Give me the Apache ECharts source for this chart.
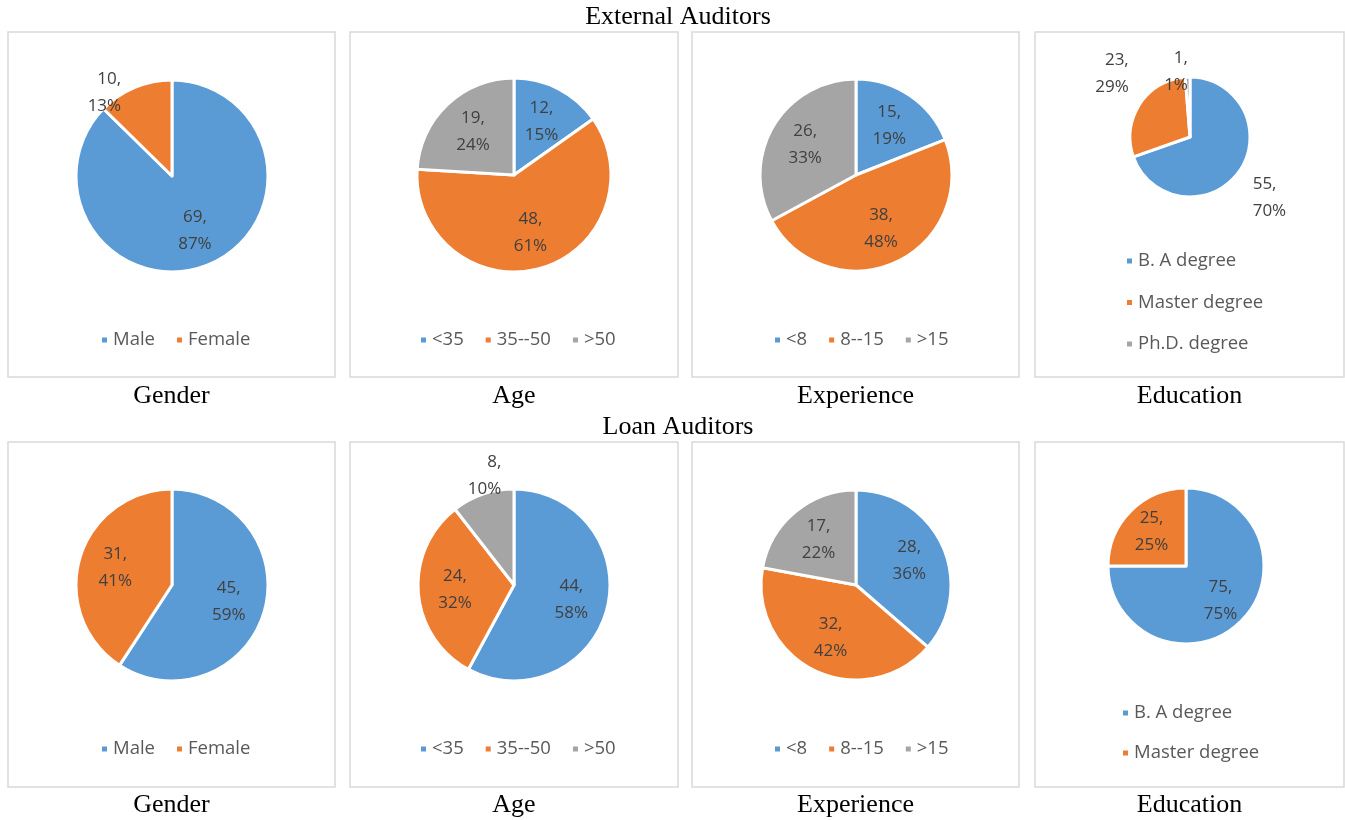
<!DOCTYPE html>
<html>
<head>
<meta charset="utf-8">
<script src="https://cdn.jsdelivr.net/npm/echarts@6/dist/echarts.min.js"></script>
<style>
  html, body { margin: 0; padding: 0; background: #fff; }
  #chart { width: 1345px; height: 820px; }
</style>
</head>
<body>
<div id="chart"></div>
<script>
// categories
const genderCats = ['Male', 'Female'];
const ageCats = ['<35', '35--50', '>50'];
const expCats = ['<8', '8--15', '>15'];
const eduCats = ['B. A degree', 'Master degree', 'Ph.D. degree'];
const eduCatsLoan = ['B. A degree', 'Master degree'];

// External auditors
const extGenderVals = [69, 10];
const extAgeVals = [12, 48, 19];
const extExpVals = [15, 38, 26];
const extEduVals = [55, 23, 1];

// Loan auditors
const loanGenderVals = [45, 31];
const loanAgeVals = [44, 24, 8];
const loanExpVals = [28, 32, 17];
const loanEduVals = [75, 25];

const panelTitles = ['Gender', 'Age', 'Experience', 'Education'];
const colors = ['#5B9BD5', '#ED7D31', '#A5A5A5'];
const labelFont = '"Open Sans", "Noto Sans", sans-serif';
const titleFont = '"Liberation Serif", "Times New Roman", serif';

const chartDom = document.getElementById('chart');
const myChart = echarts.init(chartDom);

// panel boxes [x0, x1]
const colsX = [[8, 335], [350, 678], [692, 1019], [1035, 1344]];
const rowsY = [[32, 377], [442, 787]];

// outside labels: {index: [length, length2]}
function buildData(cats, vals, outside) {
    return vals.map(function (v, i) {
        const item = { name: cats[i], value: v, itemStyle: { color: colors[i] } };
        if (outside && outside[i]) {
            item.label = { position: 'outside' };
            item.labelLine = { show: false, length: outside[i][0], length2: outside[i][1] };
        }
        return item;
    });
}

// move inside labels a bit outward, like Excel does
function pushOut(cx, cy, outside) {
    return function (p) {
        if (outside && outside[p.dataIndex]) return {};
        const r = p.labelRect;
        const mx = r.x + r.width / 2;
        const my = r.y + r.height / 2;
        return { dx: (mx - cx) * 0.16, dy: (my - cy) * 0.16 };
    };
}

function pieSeries(cats, vals, cx, cy, r, outside) {
    return {
        type: 'pie',
        center: [cx, cy],
        radius: r,
        startAngle: 90,
        clockwise: true,
        avoidLabelOverlap: false,
        percentPrecision: 0,
        animation: false,
        silent: true,
        itemStyle: { borderColor: '#fff', borderWidth: 3 },
        label: {
            show: true,
            position: 'inside',
            formatter: '{c},\n{d}%',
            fontSize: 17,
            lineHeight: 27,
            color: '#404040',
            fontFamily: labelFont
        },
        labelLine: { show: false, length: 10, length2: 0 },
        labelLayout: pushOut(cx, cy, outside),
        data: buildData(cats, vals, outside)
    };
}

const series = [
    pieSeries(genderCats, extGenderVals, 172, 176, 96, { 1: [-6, 11] }),
    pieSeries(ageCats, extAgeVals, 514, 175, 97),
    pieSeries(expCats, extExpVals, 856, 175, 96),
    pieSeries(eduCats, extEduVals, 1190, 137, 60, { 0: [45, -28], 1: [56, -41], 2: [5, -5.5] }),
    pieSeries(genderCats, loanGenderVals, 172, 585, 96),
    pieSeries(ageCats, loanAgeVals, 514, 585, 96, { 2: [20, -30] }),
    pieSeries(expCats, loanExpVals, 856, 585, 95),
    pieSeries(eduCatsLoan, loanEduVals, 1186, 566, 78)
];

const legendText = { fontSize: 18.5, lineHeight: 20, color: '#595959', fontFamily: labelFont };
function hLegend(cats, left, top) {
    return {
        data: cats, orient: 'horizontal', left: left, top: top, padding: 0,
        icon: 'rect', itemWidth: 7, itemHeight: 7, itemGap: 20,
        selectedMode: false, textStyle: legendText
    };
}
function vLegend(cats, left, top, gap) {
    return {
        data: cats, orient: 'vertical', left: left, top: top, padding: 0,
        icon: 'rect', itemWidth: 7, itemHeight: 7, itemGap: gap,
        selectedMode: false, textStyle: legendText
    };
}

const legends = [
    hLegend(genderCats, 100, 330),
    hLegend(ageCats, 419, 330),
    hLegend(expCats, 773, 330),
    vLegend(eduCats, 1125, 251, 21.5),
    hLegend(genderCats, 100, 739),
    hLegend(ageCats, 419, 739),
    hLegend(expCats, 773, 739),
    vLegend(eduCatsLoan, 1121, 703, 20)
];

// panel frames and texts
const graphics = [];
rowsY.forEach(function (ry) {
    colsX.forEach(function (cx) {
        graphics.push({
            type: 'rect', silent: true, z: -1,
            shape: { x: cx[0], y: ry[0], width: cx[1] - cx[0], height: ry[1] - ry[0] },
            style: { fill: '#fff', stroke: '#D9D9D9', lineWidth: 1.5 }
        });
    });
});
function textEl(str, x, y) {
    return {
        type: 'text', silent: true,
        style: { text: str, x: x, y: y, align: 'center', verticalAlign: 'middle',
                 font: '26px ' + titleFont, fill: '#000' }
    };
}
graphics.push(textEl('External Auditors', 678, 17));
graphics.push(textEl('Loan Auditors', 678, 427));
[396, 805].forEach(function (yy) {
    colsX.forEach(function (cx, i) {
        graphics.push(textEl(panelTitles[i], (cx[0] + cx[1]) / 2, yy));
    });
});

const option = {
    backgroundColor: '#fff',
    animation: false,
    legend: legends,
    graphic: graphics,
    series: series
};
myChart.setOption(option);
</script>
</body>
</html>
